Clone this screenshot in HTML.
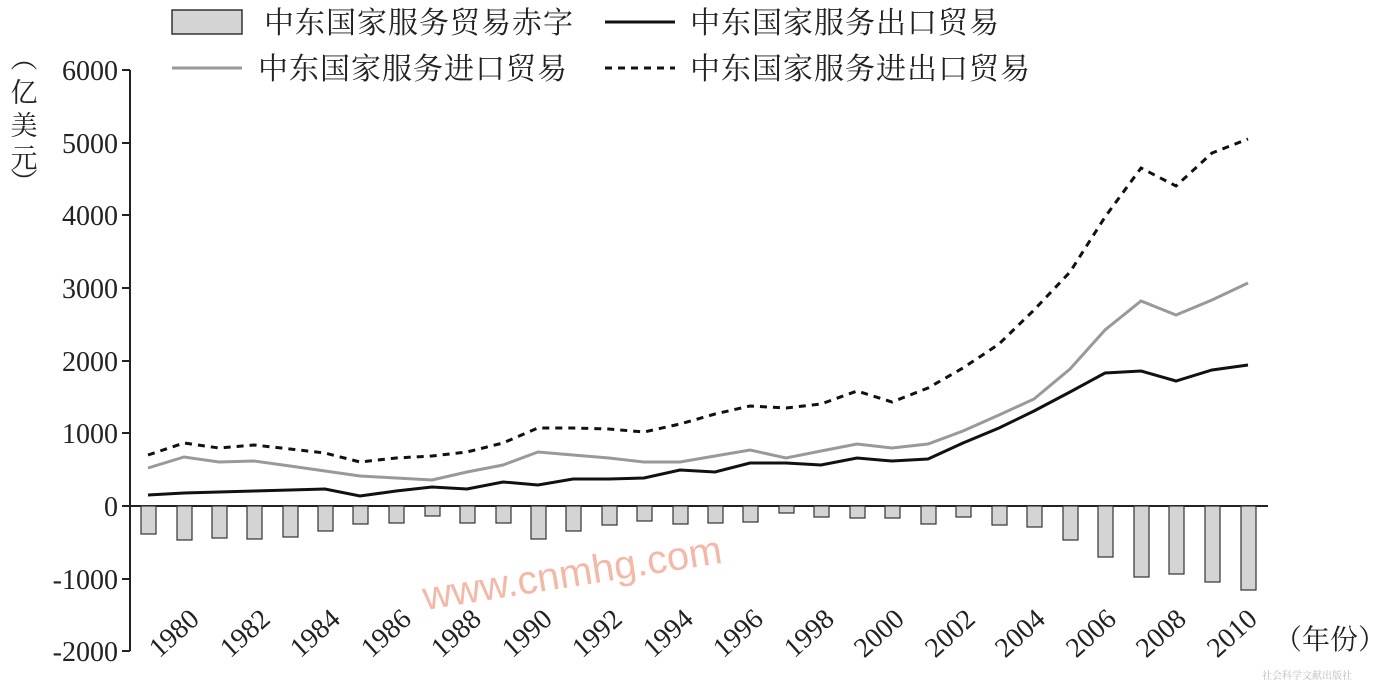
<!DOCTYPE html>
<html><head><meta charset="utf-8"><style>
html,body{margin:0;padding:0;background:#fff;}
svg{display:block;}
text{font-family:"Liberation Serif","Noto Serif CJK SC",serif;fill:#222;}
.cjk{font-family:"Liberation Serif","Noto Serif CJK SC","Noto Sans CJK SC",serif;}
</style></head><body>
<svg width="1384" height="684" viewBox="0 0 1384 684" xmlns="http://www.w3.org/2000/svg">
<!-- legend -->
<rect x="172" y="10" width="70" height="24" fill="#d4d4d4" stroke="#333" stroke-width="1.5"/>
<text x="264" y="33" font-size="30" letter-spacing="1" class="cjk">中东国家服务贸易赤字</text>
<line x1="605" y1="22" x2="675" y2="22" stroke="#111" stroke-width="3"/>
<text x="690" y="33" font-size="30" letter-spacing="1" class="cjk">中东国家服务出口贸易</text>
<line x1="172" y1="68" x2="242" y2="68" stroke="#999" stroke-width="3"/>
<text x="258" y="79" font-size="30" letter-spacing="1" class="cjk">中东国家服务进口贸易</text>
<line x1="605" y1="68" x2="675" y2="68" stroke="#111" stroke-width="3" stroke-dasharray="7,6"/>
<text x="690" y="79" font-size="30" letter-spacing="1" class="cjk">中东国家服务进出口贸易</text>
<!-- y unit -->
<g font-size="27" class="cjk" text-anchor="middle">
<text x="24" y="68">︵</text><text x="24" y="102">亿</text><text x="24" y="135">美</text><text x="24" y="168">元</text><text x="24" y="192">︶</text>
</g>
<!-- axes -->
<line x1="130" y1="70" x2="130" y2="651" stroke="#222" stroke-width="2"/>
<line x1="130" y1="506" x2="1268" y2="506" stroke="#222" stroke-width="2"/>
<g stroke="#222" stroke-width="2">
<line x1="122" y1="70" x2="130" y2="70"/><line x1="122" y1="143" x2="130" y2="143"/><line x1="122" y1="215" x2="130" y2="215"/><line x1="122" y1="288" x2="130" y2="288"/><line x1="122" y1="361" x2="130" y2="361"/><line x1="122" y1="433" x2="130" y2="433"/><line x1="122" y1="506" x2="130" y2="506"/><line x1="122" y1="579" x2="130" y2="579"/><line x1="122" y1="651" x2="130" y2="651"/>
</g>
<g font-size="28" text-anchor="end">
<text x="118" y="80">6000</text><text x="118" y="153">5000</text><text x="118" y="225">4000</text><text x="118" y="298">3000</text><text x="118" y="371">2000</text><text x="118" y="443">1000</text><text x="118" y="516">0</text><text x="118" y="589">-1000</text><text x="118" y="661">-2000</text>
</g>
<!-- bars -->
<g fill="#d4d4d4" stroke="#333" stroke-width="1.2">
<rect x="141" y="506" width="15" height="28"/>
<rect x="177" y="506" width="15" height="34"/>
<rect x="212" y="506" width="15" height="32"/>
<rect x="247" y="506" width="15" height="33"/>
<rect x="283" y="506" width="15" height="31"/>
<rect x="318" y="506" width="15" height="25"/>
<rect x="353" y="506" width="15" height="18"/>
<rect x="389" y="506" width="15" height="17"/>
<rect x="425" y="506" width="15" height="10"/>
<rect x="460" y="506" width="15" height="17"/>
<rect x="496" y="506" width="15" height="17"/>
<rect x="531" y="506" width="15" height="33"/>
<rect x="566" y="506" width="15" height="25"/>
<rect x="602" y="506" width="15" height="19"/>
<rect x="637" y="506" width="15" height="15"/>
<rect x="673" y="506" width="15" height="18"/>
<rect x="708" y="506" width="15" height="17"/>
<rect x="743" y="506" width="15" height="16"/>
<rect x="779" y="506" width="15" height="7"/>
<rect x="814" y="506" width="15" height="11"/>
<rect x="850" y="506" width="15" height="12"/>
<rect x="885" y="506" width="15" height="12"/>
<rect x="921" y="506" width="15" height="18"/>
<rect x="956" y="506" width="15" height="11"/>
<rect x="992" y="506" width="15" height="19"/>
<rect x="1027" y="506" width="15" height="21"/>
<rect x="1063" y="506" width="15" height="34"/>
<rect x="1098" y="506" width="15" height="51"/>
<rect x="1134" y="506" width="15" height="71"/>
<rect x="1169" y="506" width="15" height="68"/>
<rect x="1205" y="506" width="15" height="76"/>
<rect x="1241" y="506" width="15" height="84"/>
</g>
<!-- lines -->
<polyline fill="none" stroke="#999" stroke-width="3" points="148,468 184,457 219,462 254,461 290,466 325,471 360,476 396,478 432,480 467,472 503,465 538,452 573,455 609,458 644,462 680,462 715,456 750,450 786,458 821,451 857,444 892,448 928,444 963,431 999,415 1034,399 1070,369 1105,330 1141,301 1176,315 1212,300 1248,283"/>
<polyline fill="none" stroke="#111" stroke-width="3" points="148,495 184,493 219,492 254,491 290,490 325,489 360,496 396,491 432,487 467,489 503,482 538,485 573,479 609,479 644,478 680,470 715,472 750,463 786,463 821,465 857,458 892,461 928,459 963,443 999,428 1034,411 1070,392 1105,373 1141,371 1176,381 1212,370 1248,365"/>
<polyline fill="none" stroke="#111" stroke-width="3" stroke-dasharray="7,6" points="148,455 184,443 219,448 254,445 290,449 325,453 360,462 396,458 432,456 467,452 503,443 538,428 573,428 609,429 644,432 680,424 715,414 750,406 786,408 821,404 857,391 892,402 928,388 963,368 999,344 1034,310 1070,272 1105,217 1141,168 1176,186 1212,153 1248,139"/>
<!-- x labels -->
<g font-size="28" text-anchor="middle">
<text transform="translate(180,640) rotate(-42)">1980</text>
<text transform="translate(251,640) rotate(-42)">1982</text>
<text transform="translate(321,640) rotate(-42)">1984</text>
<text transform="translate(392,640) rotate(-42)">1986</text>
<text transform="translate(462,640) rotate(-42)">1988</text>
<text transform="translate(533,640) rotate(-42)">1990</text>
<text transform="translate(603,640) rotate(-42)">1992</text>
<text transform="translate(674,640) rotate(-42)">1994</text>
<text transform="translate(744,640) rotate(-42)">1996</text>
<text transform="translate(815,640) rotate(-42)">1998</text>
<text transform="translate(885,640) rotate(-42)">2000</text>
<text transform="translate(956,640) rotate(-42)">2002</text>
<text transform="translate(1026,640) rotate(-42)">2004</text>
<text transform="translate(1097,640) rotate(-42)">2006</text>
<text transform="translate(1167,640) rotate(-42)">2008</text>
<text transform="translate(1238,640) rotate(-42)">2010</text>
</g>
<text x="1274" y="649" font-size="28" class="cjk">（年份）</text>
<text transform="translate(425,610) rotate(-9)" font-size="40" style="font-family:'Liberation Sans',sans-serif;fill:#f4b8a8">www.cnmhg.com</text>
<text x="1262" y="679" font-size="10" class="cjk" style="fill:#bbb">社会科学文献出版社</text>
</svg>
</body></html>
